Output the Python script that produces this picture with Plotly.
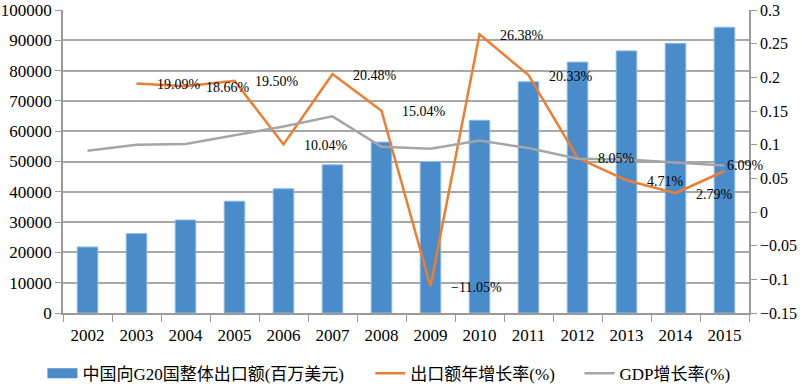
import plotly.graph_objects as go

years = [str(y) for y in range(2002, 2016)]
export_value = [21800, 26200, 30700, 36900, 41000, 48900, 56400, 50000,
                63600, 76300, 82800, 86500, 89000, 94300]
export_growth_years = years[1:]
export_growth = [0.1909, 0.1866, 0.1950, 0.1004, 0.2048, 0.1504, -0.1105,
                 0.2638, 0.2033, 0.0805, 0.0471, 0.0279, 0.0609]
export_growth_labels = ["19.09%", "18.66%", "19.50%", "10.04%", "20.48%", "15.04%",
                        "\u221211.05%", "26.38%", "20.33%", "8.05%", "4.71%", "2.79%", "6.09%"]
gdp_growth = [0.091, 0.100, 0.101, 0.114, 0.127, 0.142, 0.097, 0.094,
              0.106, 0.095, 0.079, 0.078, 0.073, 0.069]

left_ticks = list(range(0, 100001, 10000))
right_ticks = [-0.15, -0.1, -0.05, 0, 0.05, 0.1, 0.15, 0.2, 0.25, 0.3]

FONT = "Liberation Serif, Times New Roman, Noto Sans CJK SC, serif"
AXIS_COLOR = "#9a9a9a"
BLUE = "#4a8bca"
ORANGE = "#ed7d31"
GRAY = "#a5a5a5"
TEXT = "#000"

fig = go.Figure()
fig.add_trace(go.Bar(
    x=years, y=export_value, name="中国向G20国整体出口额(百万美元)",
    marker=dict(color=BLUE, line=dict(color="#8dbbe6", width=1)),
    yaxis="y", showlegend=False,
))
# legend entry for bars drawn as a wide rectangle
fig.add_trace(go.Scatter(
    x=[None], y=[None], name="中国向G20国整体出口额(百万美元)",
    mode="lines", line=dict(color=BLUE, width=12), legend="legend",
))
fig.add_trace(go.Scatter(
    x=export_growth_years, y=export_growth, name="出口额年增长率(%)",
    mode="lines", line=dict(color=ORANGE, width=2.5), yaxis="y2", legend="legend2",
))
fig.add_trace(go.Scatter(
    x=years, y=gdp_growth, name="GDP增长率(%)",
    mode="lines", line=dict(color=GRAY, width=2.5), yaxis="y2", legend="legend3",
))

for i, (yr, v, lab) in enumerate(zip(export_growth_years, export_growth, export_growth_labels)):
    last = i == len(export_growth) - 1
    fig.add_annotation(
        x=years.index(yr), y=v, xref="x", yref="y2", text=lab, showarrow=False,
        xanchor="left", yanchor="middle",
        xshift=0 if last else 18, yshift=5 if last else -1,
        font=dict(family=FONT, size=14, color=TEXT),
    )

leg_common = dict(orientation="h", yanchor="middle", y=-0.2, xanchor="left",
                  font=dict(family=FONT, size=17, color=TEXT),
                  bgcolor="rgba(0,0,0,0)", borderwidth=0)

fig.update_layout(
    width=802, height=384,
    margin=dict(l=63, r=53, t=10, b=71, autoexpand=False),
    paper_bgcolor="white", plot_bgcolor="white",
    bargap=0.58,
    font=dict(family=FONT, size=16, color=TEXT),
    showlegend=True,
    legend=dict(x=-0.03, **leg_common),
    legend2=dict(x=0.448, **leg_common),
    legend3=dict(x=0.753, **leg_common),
    xaxis=dict(type="category", range=[-0.5, len(years) - 0.5], autorange=False,
               automargin=False,
               showline=True, linecolor=AXIS_COLOR, linewidth=1.5,
               ticks="outside", tickson="boundaries", ticklen=7, tickcolor=AXIS_COLOR,
               ticklabelstandoff=6,
               showgrid=False, tickfont=dict(family=FONT, size=17, color=TEXT)),
    yaxis=dict(range=[0, 100000], tickvals=left_ticks, tickformat="d", automargin=False,
               showline=True, linecolor=AXIS_COLOR, linewidth=1.5,
               ticks="outside", ticklen=6, tickcolor=AXIS_COLOR,
               showgrid=True, gridcolor="#a8a8a8", gridwidth=1.5, zeroline=False,
               tickfont=dict(family=FONT, size=17, color=TEXT)),
    yaxis2=dict(range=[-0.15, 0.3], tickvals=right_ticks, overlaying="y", side="right",
                automargin=False,
                showline=True, linecolor=AXIS_COLOR, linewidth=1.5,
                ticks="outside", ticklen=6, tickcolor=AXIS_COLOR,
                showgrid=False, zeroline=False,
                tickfont=dict(family=FONT, size=16, color=TEXT)),
)

fig.write_html(
    "out.html",
    config={"displayModeBar": False},
    post_script="document.body.style.margin='0';document.body.style.overflow='hidden';",
)
